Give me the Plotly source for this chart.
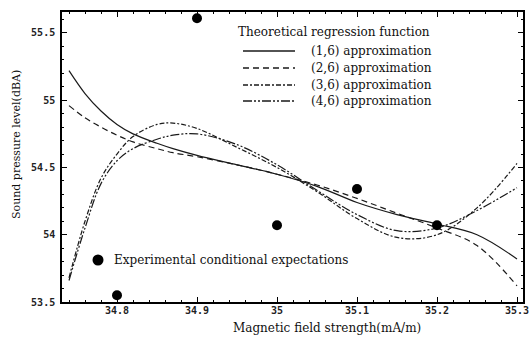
import plotly.graph_objects as go

# ---- data ----
x_fit = [34.74, 34.76, 34.78, 34.80, 34.82, 34.85, 34.87, 34.90, 34.95, 35.00,
         35.05, 35.10, 35.15, 35.20, 35.25, 35.30]
y_16 = [55.22, 55.05, 54.92, 54.82, 54.75, 54.68, 54.64, 54.59, 54.52, 54.45,
        54.36, 54.24, 54.15, 54.08, 54.00, 53.82]
y_26 = [54.96, 54.87, 54.80, 54.74, 54.69, 54.64, 54.61, 54.58, 54.52, 54.45,
        54.37, 54.27, 54.16, 54.05, 53.92, 53.62]
y_36 = [53.68, 54.10, 54.42, 54.60, 54.73, 54.82, 54.83, 54.79, 54.65, 54.50,
        54.32, 54.12, 53.98, 54.00, 54.20, 54.53]
y_46 = [53.66, 54.05, 54.38, 54.55, 54.64, 54.71, 54.74, 54.75, 54.67, 54.52,
        54.33, 54.15, 54.03, 54.05, 54.18, 54.35]

x_exp = [34.8, 34.9, 35.0, 35.1, 35.2]
y_exp = [53.55, 55.61, 54.07, 54.34, 54.07]

x_tickvals = [34.8, 34.9, 35.0, 35.1, 35.2, 35.3]
x_ticktext = ["34.8", "34.9", "35", "35.1", "35.2", "35.3"]
y_tickvals = [53.5, 54.0, 54.5, 55.0, 55.5]
y_ticktext = ["53.5", "54", "54.5", "55", "55.5"]

series_names = ["(1,6) approximation", "(2,6) approximation",
                "(3,6) approximation", "(4,6) approximation"]
series_y = [y_16, y_26, y_36, y_46]
series_dash = ["solid", "6px,4px", "5px,2px,2px,2px", "9px,2px,2px,2px,2px,2px"]

legend_title = "Theoretical regression function"
exp_label = "Experimental conditional expectations"

# ---- geometry helpers (pixel -> paper) ----
L, R, T, B = 62, 523, 12, 302
W, H = R - L, B - T
def px(x):
    return (x - L) / W
def py(y):
    return (B - y) / H

LINE = "#1a1a1a"
SERIF = "DejaVu Serif"
TXT = "#111"

fig = go.Figure()
for name, ys, d in zip(series_names, series_y, series_dash):
    fig.add_trace(go.Scatter(x=x_fit, y=ys, mode="lines", name=name,
                             line=dict(color=LINE, width=1.2, dash=d, shape="spline"),
                             showlegend=False))
fig.add_trace(go.Scatter(x=x_exp, y=y_exp, mode="markers", name=exp_label,
                         marker=dict(color="black", size=10), showlegend=False))

shapes = []
annotations = []
# legend: theoretical
annotations.append(dict(text=legend_title, xref="paper", yref="paper",
                        x=px(236), y=py(32), xanchor="left", yanchor="middle",
                        showarrow=False, font=dict(family=SERIF, size=12, color=TXT)))
row_y = [51, 68, 85, 101]
for name, d, ry in zip(series_names, series_dash, row_y):
    shapes.append(dict(type="line", xref="paper", yref="paper",
                       x0=px(243), x1=px(295), y0=py(ry), y1=py(ry),
                       line=dict(color=LINE, width=1.6 if d == "solid" else 1.3, dash=d)))
    annotations.append(dict(text=name, xref="paper", yref="paper",
                            x=px(309), y=py(ry), xanchor="left", yanchor="middle",
                            showarrow=False, font=dict(family=SERIF, size=12, color=TXT)))
# legend: experimental
shapes.append(dict(type="circle", xref="paper", yref="paper",
                   xsizemode="pixel", ysizemode="pixel",
                   xanchor=px(98), yanchor=py(260), x0=-5.5, x1=5.5, y0=-5.5, y1=5.5,
                   fillcolor="black", line=dict(color="black", width=0)))
annotations.append(dict(text=exp_label, xref="paper", yref="paper",
                        x=px(112), y=py(260), xanchor="left", yanchor="middle",
                        showarrow=False, font=dict(family=SERIF, size=12, color=TXT)))
# axis titles
annotations.append(dict(text="Magnetic field strength(mA/m)", xref="paper", yref="paper",
                        x=px(327), y=py(328), xanchor="center", yanchor="middle",
                        showarrow=False, font=dict(family=SERIF, size=12, color=TXT)))
annotations.append(dict(text="Sound pressure level(dBA)", xref="paper", yref="paper",
                        x=px(16), y=py(145), xanchor="center", yanchor="middle",
                        textangle=-90,
                        showarrow=False, font=dict(family=SERIF, size=11, color=TXT)))

tickfont = dict(family="DejaVu Sans Mono", size=10, color="#222", weight="bold")
fig.update_layout(
    width=529, height=345,
    margin=dict(l=L, r=529 - R, t=T, b=345 - B),
    paper_bgcolor="white", plot_bgcolor="white",
    shapes=shapes, annotations=annotations,
    xaxis=dict(range=[34.73125, 35.3075], tickvals=x_tickvals, ticktext=x_ticktext,
               automargin=False, ticklabeloverflow="allow", ticklabelstandoff=-2,
               ticks="inside", ticklen=5, tickwidth=1, tickcolor="black",
               showline=True, linecolor="black", linewidth=1.6, mirror="ticks",
               showgrid=False, zeroline=False, tickfont=tickfont,
               minor=dict(dtick=0.02, tick0=34.8, ticks="inside", ticklen=2.5,
                          tickcolor="black", showgrid=False)),
    yaxis=dict(range=[53.5, 55.656], tickvals=y_tickvals, ticktext=y_ticktext,
               automargin=False, ticklabelstandoff=3,
               ticks="inside", ticklen=5, tickwidth=1, tickcolor="black",
               showline=True, linecolor="black", linewidth=1.6, mirror="ticks",
               showgrid=False, zeroline=False, tickfont=tickfont,
               minor=dict(dtick=0.1, tick0=53.5, ticks="inside", ticklen=2.5,
                          tickcolor="black", showgrid=False)),
)
fig.write_html("out.html", config={"displayModeBar": False},
               post_script="document.body.style.margin='0px';")
